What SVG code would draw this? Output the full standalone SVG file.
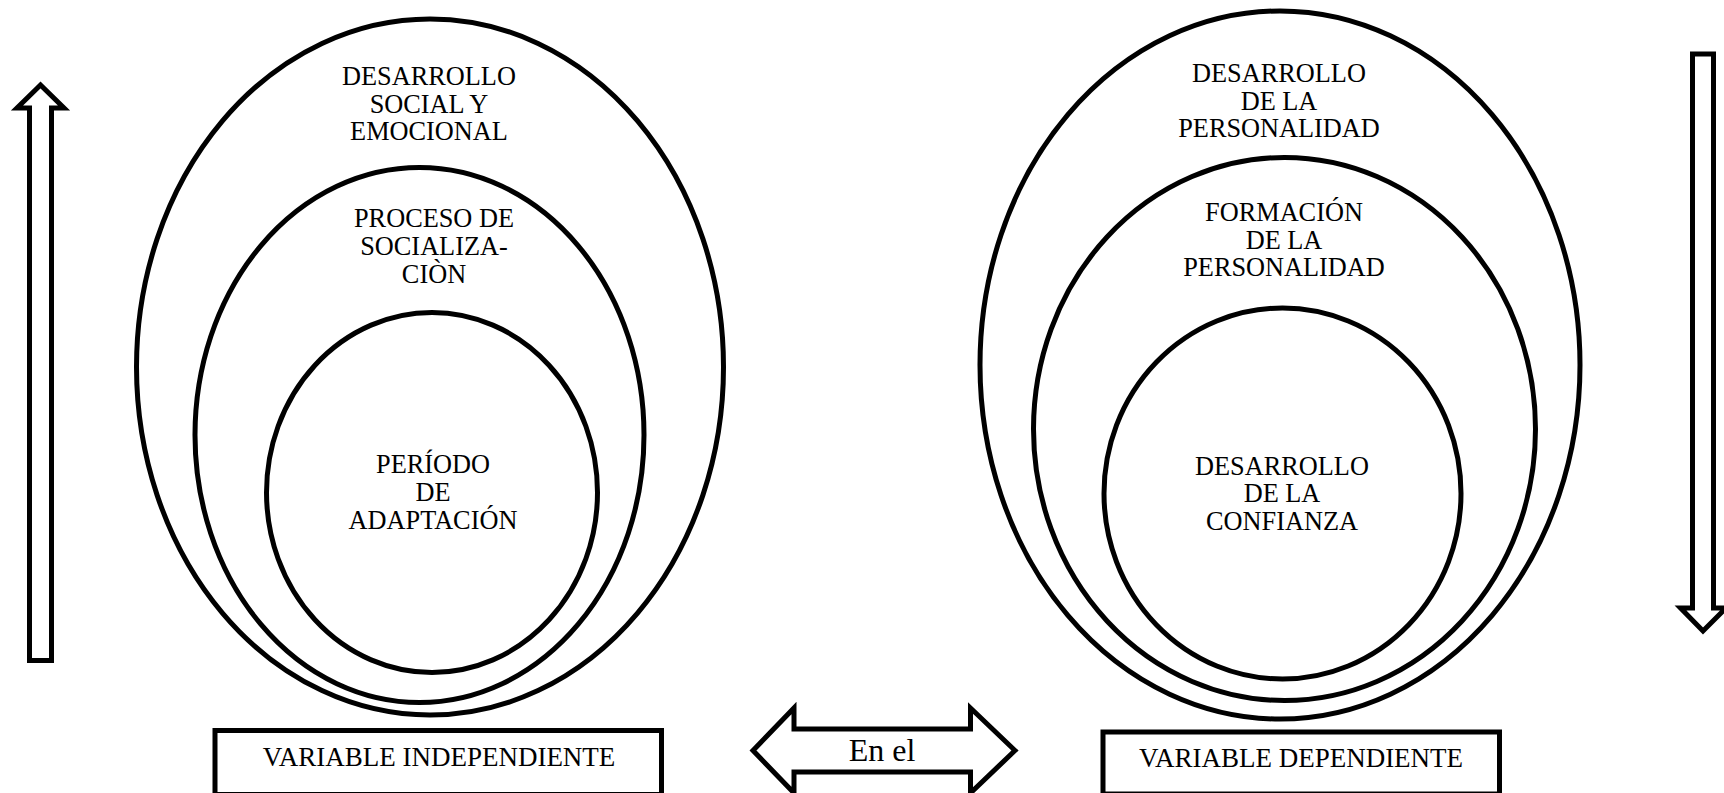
<svg xmlns="http://www.w3.org/2000/svg" width="1724" height="793" viewBox="0 0 1724 793">
<style>
.s{fill:none;stroke:#000;stroke-width:5;stroke-linejoin:miter}
.b{fill:#fff;stroke:#000;stroke-width:5}
text{font-family:"Liberation Serif","Times New Roman",serif;fill:#000;text-anchor:middle}
.t{font-size:26.3px}
.bt{font-size:27px}
</style>
<rect width="1724" height="793" fill="#fff"/>
<g id="left-outer">
<ellipse class="s" cx="430" cy="367" rx="293.5" ry="348"/>
<text class="t" x="429" y="85">DESARROLLO</text>
<text class="t" x="429" y="112.5">SOCIAL Y</text>
<text class="t" x="429" y="140">EMOCIONAL</text>
</g>
<g id="left-middle">
<ellipse class="s" cx="419.5" cy="435" rx="224.5" ry="267.5"/>
<text class="t" x="434" y="226.5">PROCESO DE</text>
<text class="t" x="434" y="254.5">SOCIALIZA-</text>
<text class="t" x="434" y="282.5">CIÒN</text>
</g>
<g id="left-inner">
<ellipse class="s" cx="432" cy="492.5" rx="165.5" ry="180"/>
<text class="t" x="433" y="473">PERÍODO</text>
<text class="t" x="433" y="501">DE</text>
<text class="t" x="433" y="529">ADAPTACIÓN</text>
</g>
<g id="right-outer">
<ellipse class="s" cx="1280" cy="365" rx="300" ry="354"/>
<text class="t" x="1279" y="81.5">DESARROLLO</text>
<text class="t" x="1279" y="109.5">DE LA</text>
<text class="t" x="1279" y="137">PERSONALIDAD</text>
</g>
<g id="right-middle">
<ellipse class="s" cx="1284.5" cy="429" rx="251" ry="271.5"/>
<text class="t" x="1284" y="221">FORMACIÓN</text>
<text class="t" x="1284" y="249">DE LA</text>
<text class="t" x="1284" y="276">PERSONALIDAD</text>
</g>
<g id="right-inner">
<ellipse class="s" cx="1282.5" cy="493.5" rx="178.5" ry="185.5"/>
<text class="t" x="1282" y="475">DESARROLLO</text>
<text class="t" x="1282" y="502">DE LA</text>
<text class="t" x="1282" y="530">CONFIANZA</text>
</g>
<g id="box-independiente">
<rect class="b" x="215" y="730.5" width="446.5" height="64"/>
<text class="bt" x="439" y="766">VARIABLE INDEPENDIENTE</text>
</g>
<g id="box-dependiente">
<rect class="b" x="1103" y="732" width="396.5" height="62"/>
<text class="bt" x="1301" y="767">VARIABLE DEPENDIENTE</text>
</g>
<g id="connectors">
<path id="arrow-up" class="s" d="M40.5,85 L17,108 L29.5,108 L29.5,660.5 L51.5,660.5 L51.5,108 L64,108 Z"/>
<path id="arrow-down" class="s" d="M1692.5,54 L1713.5,54 L1713.5,608 L1726,608 L1703,631 L1680.5,608 L1692.5,608 Z"/>
<g id="double-arrow">
<path class="s" d="M753,750.5 L794,708 L794,729 L970.5,729 L970.5,708 L1015,750.5 L970.5,793 L970.5,772 L794,772 L794,793 Z"/>
<text x="882" y="761" style="font-size:32px">En el</text>
</g>
</g>
</svg>
